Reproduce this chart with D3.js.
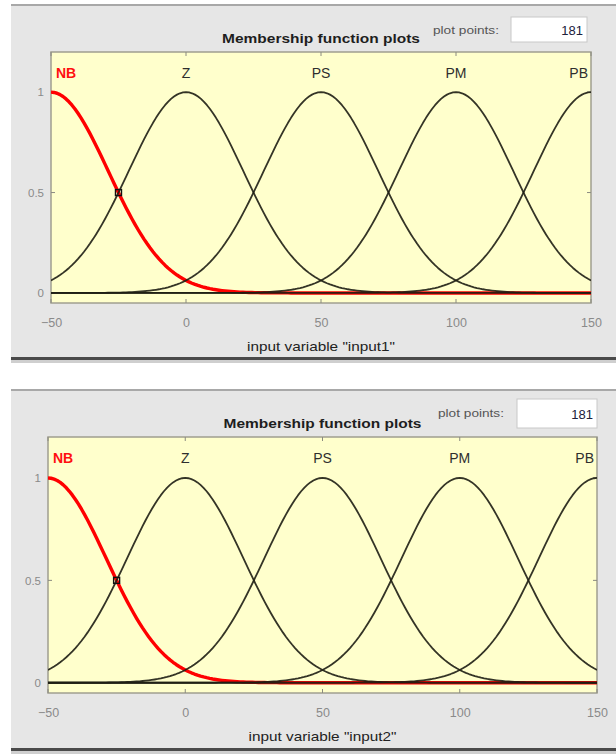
<!DOCTYPE html>
<html>
<head>
<meta charset="utf-8">
<script src="https://cdn.jsdelivr.net/npm/d3@7"></script>
<style>
  html, body { margin: 0; padding: 0; background: #ffffff; }
  svg { display: block; }
  text { font-family: "Liberation Sans", Arial, sans-serif; }
</style>
</head>
<body>
<svg id="fig" width="616" height="756"></svg>
<script>
// Membership function definitions (Gaussian: center, sigma)
const mfNames   = ["NB", "Z", "PS", "PM", "PB"];
const mfCenters = [-50, 0, 50, 100, 150];
const mfSigmas  = [21.23, 21.23, 21.23, 21.23, 21.23];
const selectedMF = "NB";

// Axis settings
const xRange  = [-50, 150];
const yRange  = [-0.05, 1.2];
const xTicks  = [-50, 0, 50, 100, 150];
const yTicks  = [0, 0.5, 1];
const plotPoints = 181;

// Input variables shown, one per panel
const variables = ["input1", "input2"];

// Panel geometry
const panels = [
  { top: 5,   plot: { x0: 51, x1: 591, y0: 52,  y1: 303 }, ppX: 433, ppY: 34,  box: { x: 511, y: 17,  w: 76, h: 25 }, bottom: 357 },
  { top: 390, plot: { x0: 48, x1: 597, y0: 437, y1: 693 }, ppX: 438, ppY: 417, box: { x: 517, y: 399, w: 80, h: 29 }, bottom: 748 }
];

const gaussmf = (x, c, s) => Math.exp(-((x - c) ** 2) / (2 * s * s));

const svg = d3.select("#fig");

variables.forEach((v, i) => {
  const p = panels[i];
  const g = svg.append("g");

  // window background
  g.append("rect").attr("x", 11).attr("y", p.top).attr("width", 605).attr("height", p.bottom - p.top)
    .attr("fill", "#e6e6e6");
  g.append("line").attr("x1", 11).attr("x2", 616).attr("y1", p.top).attr("y2", p.top)
    .attr("stroke", "#a8a8a8").attr("stroke-width", 2);
  g.append("rect").attr("x", 11).attr("y", p.bottom).attr("width", 605).attr("height", 3).attr("fill", "#4a4a4a");
  g.append("rect").attr("x", 11).attr("y", p.bottom + 3).attr("width", 605).attr("height", 3).attr("fill", "#cfcfcf");

  const x = d3.scaleLinear().domain(xRange).range([p.plot.x0, p.plot.x1]);
  const y = d3.scaleLinear().domain(yRange).range([p.plot.y1, p.plot.y0]);
  const pw = p.plot.x1 - p.plot.x0, ph = p.plot.y1 - p.plot.y0;

  // plot area
  g.append("rect").attr("x", p.plot.x0).attr("y", p.plot.y0).attr("width", pw).attr("height", ph)
    .attr("fill", "#ffffcc").attr("stroke", "#a09f90").attr("stroke-width", 1.5);

  // ticks inside the box on all sides
  const tk = g.append("g").attr("stroke", "#8a8a80").attr("stroke-width", 1);
  xTicks.forEach(t => {
    tk.append("line").attr("x1", x(t)).attr("x2", x(t)).attr("y1", p.plot.y1).attr("y2", p.plot.y1 - 4);
    tk.append("line").attr("x1", x(t)).attr("x2", x(t)).attr("y1", p.plot.y0).attr("y2", p.plot.y0 + 4);
  });
  yTicks.forEach(t => {
    tk.append("line").attr("x1", p.plot.x0).attr("x2", p.plot.x0 + 4).attr("y1", y(t)).attr("y2", y(t));
    tk.append("line").attr("x1", p.plot.x1).attr("x2", p.plot.x1 - 4).attr("y1", y(t)).attr("y2", y(t));
  });

  // tick labels
  const xAxis = d3.axisBottom(x).tickValues(xTicks).tickSize(0).tickPadding(0).tickFormat(d3.format("d"));
  const xg = g.append("g").attr("transform", `translate(0,${p.plot.y1 + 24})`).call(xAxis);
  xg.select(".domain").remove();
  xg.selectAll("text").attr("fill", "#8a8a8a").attr("font-size", 12.5).attr("dy", 0)
    .attr("font-family", "Liberation Sans, Arial, sans-serif");

  const yAxis = d3.axisLeft(y).tickValues(yTicks).tickSize(0).tickPadding(0).tickFormat(d => String(d));
  const yg = g.append("g").attr("transform", `translate(${p.plot.x0 - 7},0)`).call(yAxis);
  yg.select(".domain").remove();
  yg.selectAll("text").attr("fill", "#8a8a8a").attr("font-size", 11.5)
    .attr("font-family", "Liberation Sans, Arial, sans-serif");

  // membership curves
  const xs = d3.range(plotPoints).map(k => xRange[0] + k * (xRange[1] - xRange[0]) / (plotPoints - 1));
  const line = d3.line().x(d => x(d[0])).y(d => y(d[1]));
  const clip = "clip" + i;
  g.append("clipPath").attr("id", clip).append("rect")
    .attr("x", p.plot.x0).attr("y", p.plot.y0).attr("width", pw).attr("height", ph);
  const cg = g.append("g").attr("clip-path", `url(#${clip})`);

  // selected curve first, the others drawn over it
  const order = mfNames.map((n, k) => k).sort((a, b) => (mfNames[a] === selectedMF ? -1 : 0) - (mfNames[b] === selectedMF ? -1 : 0));
  order.forEach(k => {
    const sel = mfNames[k] === selectedMF;
    const pts = xs.map(xx => [xx, gaussmf(xx, mfCenters[k], mfSigmas[k])]);
    cg.append("path").datum(pts).attr("d", line).attr("fill", "none")
      .attr("stroke", sel ? "#ff0000" : "#1e1e14").attr("stroke-width", sel ? 3.4 : 1.8)
      .attr("stroke-opacity", sel ? 1 : 0.9)
      .attr("stroke-linejoin", "round");
  });

  // handle on the selected curve at its half-height point
  const sk = mfNames.indexOf(selectedMF);
  const hx = mfCenters[sk] + mfSigmas[sk] * Math.sqrt(2 * Math.LN2);
  g.append("rect").attr("x", x(hx) - 3).attr("y", y(gaussmf(hx, mfCenters[sk], mfSigmas[sk])) - 3)
    .attr("width", 6).attr("height", 6).attr("fill", "none").attr("stroke", "#111").attr("stroke-width", 1.4);

  // curve names
  mfNames.forEach((n, k) => {
    const sel = n === selectedMF;
    let anchor = "middle", lx = x(mfCenters[k]);
    if (mfCenters[k] <= xRange[0]) { anchor = "start"; lx = p.plot.x0 + 5; }
    if (mfCenters[k] >= xRange[1]) { anchor = "end"; lx = p.plot.x1 - 3; }
    g.append("text").attr("x", lx).attr("y", p.plot.y0 + 26).attr("text-anchor", anchor)
      .attr("font-size", 14).attr("font-weight", sel ? "bold" : "normal")
      .attr("fill", sel ? "#ff1010" : "#2e2e2e").text(n);
  });

  // header
  g.append("text").attr("x", (p.plot.x0 + p.plot.x1) / 2).attr("y", p.plot.y0 - 9)
    .attr("text-anchor", "middle").attr("font-size", 13.5).attr("font-weight", "bold").attr("fill", "#1e1e1e")
    .attr("textLength", 198).attr("lengthAdjust", "spacingAndGlyphs")
    .text("Membership function plots");
  g.append("text").attr("x", p.ppX).attr("y", p.ppY).attr("font-size", 10).attr("fill", "#555")
    .attr("textLength", 66).attr("lengthAdjust", "spacingAndGlyphs").text("plot points:");
  g.append("rect").attr("x", p.box.x).attr("y", p.box.y).attr("width", p.box.w).attr("height", p.box.h)
    .attr("fill", "#ffffff").attr("stroke", "#c8c8c8").attr("stroke-width", 1);
  g.append("text").attr("x", p.box.x + p.box.w - 4).attr("y", p.box.y + p.box.h / 2 + 5)
    .attr("text-anchor", "end").attr("font-size", 13).attr("fill", "#20203a").text(String(plotPoints));

  // axis title
  g.append("text").attr("x", (p.plot.x0 + p.plot.x1) / 2).attr("y", p.plot.y1 + 48)
    .attr("text-anchor", "middle").attr("font-size", 13).attr("fill", "#222")
    .attr("textLength", 148).attr("lengthAdjust", "spacingAndGlyphs")
    .text(`input variable "${v}"`);
});
</script>
</body>
</html>
